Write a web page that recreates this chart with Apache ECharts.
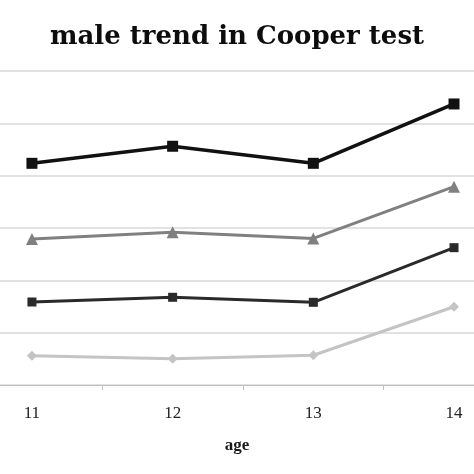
<!DOCTYPE html>
<html>
<head>
<meta charset="utf-8">
<script src="https://cdn.jsdelivr.net/npm/echarts@6/dist/echarts.min.js"></script>
<style>
  html, body { margin: 0; padding: 0; background: #fff; }
  #chart { width: 474px; height: 474px; }
</style>
</head>
<body>
<div id="chart"></div>
<script>
// 年龄 (x 轴)
const ages = [11, 12, 13, 14];
// 各组数值
const seriesA = [2118, 2281, 2118, 2685];
const seriesB = [1395, 1459, 1400, 1895];
const seriesC = [793, 838, 790, 1312];
const seriesD = [280, 251, 284, 748];
// 刻度位置 (类目之间)
const tickPos = [10.5, 11.5, 12.5, 13.5, 14.5];

const chart = echarts.init(document.getElementById("chart"));

const mk = (data, color, symbol, size, width) => ({
  type: "line",
  data: data.map((v, i) => [ages[i], v]),
  symbol: symbol,
  symbolSize: size,
  itemStyle: { color: color },
  lineStyle: { color: color, width: width },
  animation: false,
});

const option = {
  title: {
    text: "male trend in Cooper test",
    left: "center",
    top: 19,
    textStyle: {
      fontFamily: "DejaVu Serif",
      fontWeight: "bold",
      fontSize: 26,
      color: "#0d0d0d",
    },
  },
  grid: {
    left: 0,
    right: 0,
    top: 71,
    bottom: 89,
  },
  xAxis: {
    type: "value",
    min: 10.773,
    max: 14.142,
    name: "age",
    nameLocation: "middle",
    nameGap: 52,
    nameTextStyle: {
      fontFamily: "Liberation Serif",
      fontWeight: "bold",
      fontSize: 17,
      color: "#1a1a1a",
    },
    splitLine: { show: false },
    axisLine: { lineStyle: { color: "#bfbfbf", width: 1 } },
    axisTick: {
      show: true,
      length: 5,
      customValues: tickPos,
      lineStyle: { color: "#bfbfbf" },
    },
    axisLabel: {
      margin: 20,
      customValues: ages,
      fontFamily: "Liberation Serif",
      fontSize: 17,
      color: "#222",
    },
  },
  yAxis: {
    type: "value",
    min: 0,
    max: 3000,
    interval: 500,
    axisLine: { show: false },
    axisTick: { show: false },
    axisLabel: { show: false },
    splitLine: { lineStyle: { color: "#d9d9d9", width: 1.5 } },
  },
  series: [
    mk(seriesA, "#111111", "rect", 11, 3.5),
    mk(seriesB, "#808080", "triangle", 12, 3),
    mk(seriesC, "#2a2a2a", "rect", 9, 3),
    mk(seriesD, "#c4c4c4", "diamond", 10, 3),
  ],
};

chart.setOption(option);
</script>
</body>
</html>
